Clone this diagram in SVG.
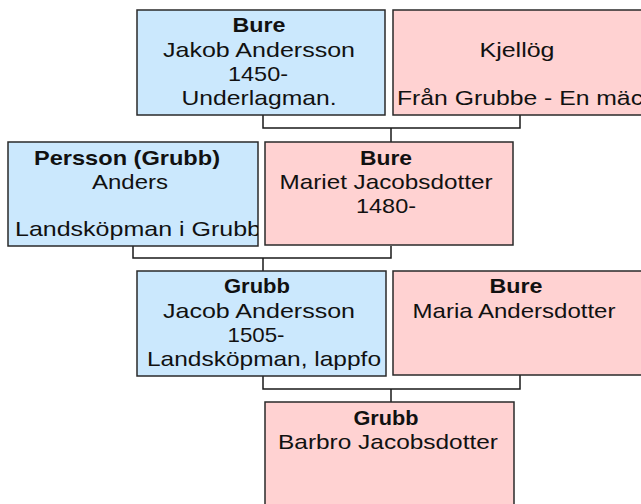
<svg xmlns="http://www.w3.org/2000/svg" width="641" height="504" viewBox="0 0 641 504">
<defs>
<style>
.m{fill:#cbe8fd;stroke:#2a2a2a;stroke-width:1.5}
.f{fill:#ffd2d2;stroke:#2a2a2a;stroke-width:1.5}
text{font-family:"Liberation Sans",Arial,sans-serif;font-size:21px;fill:#111}
.b{font-weight:bold}
.c{text-anchor:middle}
.con{fill:none;stroke:#1a1a1a;stroke-width:1.5}
</style>
<clipPath id="c3"><rect x="8" y="142" width="250" height="104"/></clipPath>
<clipPath id="c5"><rect x="137" y="271" width="249" height="105"/></clipPath>
</defs>
<rect width="641" height="504" fill="#fff"/>
<g id="connectors">
<path class="con" d="M263 115V128H520V115M391 128V142"/>
<path class="con" d="M133 246V258H391V246M263 258V271"/>
<path class="con" d="M263 376V389H520V375M391 389V402"/>
</g>
<g id="n1">
<rect class="m" x="137" y="10" width="248" height="105"/>
<text class="c b" x="259" y="32" textLength="53" lengthAdjust="spacingAndGlyphs">Bure</text>
<text class="c" x="259" y="57" textLength="192" lengthAdjust="spacingAndGlyphs">Jakob Andersson</text>
<text class="c" x="258" y="81" textLength="60" lengthAdjust="spacingAndGlyphs">1450-</text>
<text class="c" x="259" y="105" textLength="155" lengthAdjust="spacingAndGlyphs">Underlagman.</text>
</g>
<g id="n2">
<rect class="f" x="393" y="10" width="252" height="105"/>
<text class="c" x="517" y="57" textLength="75" lengthAdjust="spacingAndGlyphs">Kjellög</text>
<text x="397" y="105" textLength="246" lengthAdjust="spacingAndGlyphs">Från Grubbe - En mäc</text>
</g>
<g id="n3">
<rect class="m" x="8" y="142" width="250" height="104"/>
<text class="c b" x="127" y="165" textLength="186" lengthAdjust="spacingAndGlyphs">Persson (Grubb)</text>
<text class="c" x="130" y="189" textLength="76" lengthAdjust="spacingAndGlyphs">Anders</text>
<text x="15" y="236" clip-path="url(#c3)" textLength="246" lengthAdjust="spacingAndGlyphs">Landsköpman i Grubb</text>
</g>
<g id="n4">
<rect class="f" x="265" y="142" width="248" height="103"/>
<text class="c b" x="386" y="165" textLength="52" lengthAdjust="spacingAndGlyphs">Bure</text>
<text class="c" x="386" y="189" textLength="213" lengthAdjust="spacingAndGlyphs">Mariet Jacobsdotter</text>
<text class="c" x="386" y="213" textLength="60" lengthAdjust="spacingAndGlyphs">1480-</text>
</g>
<g id="n5">
<rect class="m" x="137" y="271" width="249" height="105"/>
<text class="c b" x="257" y="293" textLength="66" lengthAdjust="spacingAndGlyphs">Grubb</text>
<text class="c" x="259" y="318" textLength="192" lengthAdjust="spacingAndGlyphs">Jacob Andersson</text>
<text class="c" x="256" y="342" textLength="57" lengthAdjust="spacingAndGlyphs">1505-</text>
<text x="147" y="366" clip-path="url(#c5)" textLength="234" lengthAdjust="spacingAndGlyphs">Landsköpman, lappfo</text>
</g>
<g id="n6">
<rect class="f" x="393" y="271" width="252" height="104"/>
<text class="c b" x="516" y="293" textLength="53" lengthAdjust="spacingAndGlyphs">Bure</text>
<text class="c" x="514" y="318" textLength="203" lengthAdjust="spacingAndGlyphs">Maria Andersdotter</text>
</g>
<g id="n7">
<rect class="f" x="265" y="402" width="249" height="106"/>
<text class="c b" x="386" y="425" textLength="65" lengthAdjust="spacingAndGlyphs">Grubb</text>
<text class="c" x="388" y="449" textLength="220" lengthAdjust="spacingAndGlyphs">Barbro Jacobsdotter</text>
</g>
</svg>
